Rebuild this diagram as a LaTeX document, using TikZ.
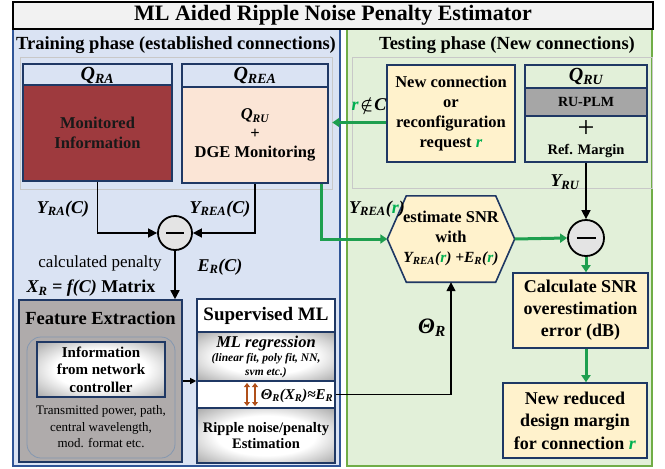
\documentclass[tikz,border=0pt]{standalone}
\usepackage{fontspec}
\setmainfont{Liberation Serif}
\usetikzlibrary{arrows.meta}
\definecolor{bluebg}{HTML}{DAE3F3}
\definecolor{blueline}{HTML}{2F5597}
\definecolor{navy}{HTML}{1F3864}
\definecolor{greenbg}{HTML}{E2F0D9}
\definecolor{greenline}{HTML}{70AD47}
\definecolor{titlebg}{HTML}{F2F2F2}
\definecolor{darkred}{HTML}{9E3A3E}
\definecolor{peach}{HTML}{FBE5D6}
\definecolor{paleyellow}{HTML}{FFF2CC}
\definecolor{fegrey}{HTML}{AFABAB}
\definecolor{plmgrey}{HTML}{A6A6A6}
\definecolor{arrowgreen}{HTML}{1E9F4F}
\definecolor{rgreen}{HTML}{00B050}
\definecolor{arrbrown}{HTML}{B0501A}
\definecolor{circfill}{HTML}{E4E4E4}
\definecolor{groupline}{HTML}{C8C8C8}
\definecolor{roundline}{HTML}{8497B0}

\pgfdeclareradialshading{glow}{\pgfpoint{0bp}{0bp}}{color(0bp)=(white); color(18bp)=(white); color(36bp)=(black!35); color(50bp)=(black!75)}

\newcommand\bi[1]{\textbf{\textit{#1}}}
\newcommand\fsz[2]{\fontsize{#1}{#2}\selectfont}
\newcommand\rr{\textcolor{rgreen}{\bi{r}}}

\tikzset{
 box/.style={draw=navy, line width=1.6pt, inner sep=0pt, align=center},
 blk/.style={-{Triangle[length=9pt,width=9pt]}, line width=1.6pt, black},
 grn/.style={-{Triangle[length=7pt,width=9pt]}, line width=3pt, arrowgreen},
 lbl/.style={inner sep=0pt, align=center},
 minus/.style={circle, draw=black, line width=1.8pt, fill=circfill, inner sep=0pt},
 group/.style={draw=groupline, line width=0.6pt, inner sep=0pt},
 glowbox/.style={box, shading=glow},
}

\begin{document}
\begin{tikzpicture}[x=1pt,y=-1pt]
\useasboundingbox (0,0) rectangle (665,469);
% panels
\node[draw=blueline, fill=bluebg, line width=1.6pt, minimum width=327pt, minimum height=437pt, inner sep=0pt] (train) at (176.5,247.5) {};
\node[draw=greenline, fill=greenbg, line width=1.6pt, minimum width=305pt, minimum height=437pt, inner sep=0pt] (test) at (499.5,247.5) {};
\node[draw=black, fill=titlebg, line width=1.8pt, minimum width=640pt, minimum height=27pt, inner sep=0pt, font=\fsz{22}{26}\bfseries] (title) at (333,15.5) {ML Aided Ripple Noise Penalty Estimator};
\node[lbl, font=\fsz{18.5}{22}\bfseries] (trainlbl) at (176,45) {Training phase (established connections)};
\node[lbl, font=\fsz{18.5}{22}\bfseries] (testlbl) at (507,45) {Testing phase (New connections)};

% groups
\node[group, minimum width=312pt, minimum height=132pt] (lgrp) at (176,123) {};
\node[group, minimum width=300pt, minimum height=131pt] (rgrp) at (502,122.5) {};

% Q_RA
\node[box, fill=bluebg, minimum width=149pt, minimum height=23pt, font=\fsz{20}{24}\bfseries\itshape] (qrah) at (97.5,75.5) {Q\textsubscript{RA}};
\node[box, fill=darkred, minimum width=149pt, minimum height=96pt, text=black!90, font=\fsz{16.5}{20}\bfseries] (qrab) at (97.5,133) {Monitored\\Information};
% Q_REA
\node[box, fill=bluebg, minimum width=146pt, minimum height=23pt, font=\fsz{20}{24}\bfseries\itshape] (qreah) at (255,75.5) {Q\textsubscript{REA}};
\node[box, fill=peach, minimum width=146pt, minimum height=96pt, font=\fsz{16.5}{19}\bfseries] (qreab) at (255,135) {\bi{Q\textsubscript{RU}}\\+\\DGE Monitoring};

% new connection
\node[box, fill=paleyellow, minimum width=128pt, minimum height=97pt, font=\fsz{16.5}{20}\bfseries] (newc) at (451,113.5) {New connection\\or\\reconfiguration\\request \rr};
% Q_RU
\node[box, fill=greenbg, minimum width=122pt, minimum height=23pt, font=\fsz{20}{24}\bfseries\itshape] (qruh) at (586,76.5) {Q\textsubscript{RU}};
\node[box, fill=plmgrey, minimum width=122pt, minimum height=28pt, font=\fsz{14}{16}\bfseries] (qruplm) at (586,102) {RU-PLM};
\node[box, fill=greenbg, minimum width=122pt, minimum height=46pt, font=\fsz{14.5}{17}\bfseries] (qrub) at (586,139) {{\fsz{30}{20}\mdseries +}\\Ref. Margin};

% minus circles
\node[minus, minimum size=34pt] (ml) at (175,233) {};
\draw[line width=2.4pt] ([xshift=-9pt]ml.center) -- ([xshift=9pt]ml.center);
\node[minus, minimum size=36pt] (mr) at (586,238) {};
\draw[line width=2.4pt] ([xshift=-9.5pt]mr.center) -- ([xshift=9.5pt]mr.center);

% labels left
\node[lbl, font=\fsz{18}{20}\bfseries\itshape] (yra) at (63,209) {Y\textsubscript{RA}(C)};
\node[lbl, font=\fsz{18}{20}\bfseries\itshape] (yrea) at (220,209) {Y\textsubscript{REA}(C)};
\node[lbl, font=\fsz{17}{20}] (calcpen) at (100,263) {calculated penalty};
\node[lbl, font=\fsz{18}{20}\bfseries\itshape] (erc) at (220,267) {E\textsubscript{R}(C)};
\node[lbl, font=\fsz{18}{20}\bfseries] (xr) at (91,288) {\textit{X\textsubscript{R} = f(C)} Matrix};

% feature extraction
\node[box, fill=fegrey, minimum width=163pt, minimum height=162pt] (fe) at (100.5,381) {};
\node[lbl, font=\fsz{18.5}{22}\bfseries] (fetitle) at (100.5,318) {Feature Extraction};
\node[draw=roundline, line width=0.8pt, rounded corners=14pt, minimum width=148pt, minimum height=121pt, inner sep=0pt] (feinner) at (101,397.5) {};
\node[glowbox, minimum width=128pt, minimum height=55pt, font=\fsz{15}{17.5}\bfseries] (info) at (101,369.5) {Information\\from network\\controller};
\node[lbl, font=\fsz{13}{16.5}] (fetext) at (101,427) {Transmitted power, path,\\central wavelength,\\mod. format etc.};

% supervised ML
\node[box, fill=white, minimum width=138pt, minimum height=33pt, font=\fsz{19}{22}\bfseries] (suph) at (266,315.5) {Supervised ML};
\node[glowbox, minimum width=138pt, minimum height=49pt, font=\fsz{11.5}{14}\bfseries\itshape] (supreg) at (266,356.5) {{\fsz{16.5}{18}ML regression}\\(linear fit, poly fit, NN,\\svm etc.)};
\node[box, fill=white, minimum width=138pt, minimum height=27pt] (supth) at (266,394.5) {};
\node[glowbox, minimum width=138pt, minimum height=55pt, font=\fsz{14.5}{16}\bfseries] (suprip) at (266,435.5) {Ripple noise/penalty\\Estimation};
\node[lbl, font=\fsz{15}{18}\bfseries\itshape] (thtext) at (297,396) {Θ\textsubscript{R}(X\textsubscript{R})≈E\textsubscript{R}};
\draw[arrbrown, line width=1.6pt, {Triangle[length=4pt,width=6pt]}-{Triangle[length=4pt,width=6pt]}] ([xshift=-19pt,yshift=11.5pt]supth.center) -- ([xshift=-19pt,yshift=-11.5pt]supth.center);
\draw[arrbrown, line width=1.6pt, {Triangle[length=4pt,width=6pt]}-{Triangle[length=4pt,width=6pt]}] ([xshift=-11pt,yshift=11.5pt]supth.center) -- ([xshift=-11pt,yshift=-11.5pt]supth.center);

% hexagon
\node[inner sep=0pt, minimum width=127pt, minimum height=86pt] (hex) at (451,239) {};
\draw[draw=navy, fill=paleyellow, line width=1.6pt] (hex.west) -- ([xshift=19pt]hex.north west) -- ([xshift=-19pt]hex.north east) -- (hex.east) -- ([xshift=-19pt]hex.south east) -- ([xshift=19pt]hex.south west) -- cycle;
\node[lbl, font=\fsz{16.5}{20}\bfseries] (hextext) at (451,238) {estimate SNR\\with\\{\fsz{15.5}{18}\itshape Y\textsubscript{REA}(\rr) +E\textsubscript{R}(\rr)}};

% right lower boxes
\node[box, fill=paleyellow, minimum width=135pt, minimum height=75pt, font=\fsz{18}{22}\bfseries] (calc) at (580.5,310.5) {Calculate SNR\\overestimation\\error (dB)};
\node[box, fill=paleyellow, minimum width=144pt, minimum height=75pt, font=\fsz{18}{22.5}\bfseries] (nr) at (575,420.5) {New reduced\\design margin\\for connection \rr};

% labels right
\node[lbl, font=\fsz{22}{24}\bfseries\itshape] (thetar) at (432,328) {Θ\textsubscript{R}};
\node[lbl, font=\fsz{18}{20}\bfseries\itshape] (yrear) at (377,209) {Y\textsubscript{REA}(\rr)};
\node[lbl, font=\fsz{18}{20}\bfseries\itshape] (yru) at (565,182) {Y\textsubscript{RU}};
\node[lbl, font=\fsz{18}{20}\bfseries\itshape] (rnotin) at (369,105) {\rr\kern1.5pt{\boldmath$\notin$}\kern1pt C};

% connectors
\draw[blk] (qrab.south) |- (ml.west);
\draw[blk] (qreab.south) |- (ml.east);
\draw[blk] (ml.south) -- (ml.south |- fe.north);
\draw[-{Triangle[length=6pt,width=6pt]}, line width=1.2pt] (fe.east) -- (fe.east -| suph.west);
\draw[blk] (supth.east) -| (hex.south);
\draw[blk] (qrub.south) -- (mr.north);
\coordinate (gstart) at ([xshift=-7pt]qreab.south east);
\draw[grn] (gstart) |- (hex.west);
\draw[grn] (hex.east) -- (mr.west);
\draw[grn] (mr.south) -- (mr.south |- calc.north);
\draw[grn] (mr.south |- calc.south) -- (mr.south |- nr.north);
\coordinate (ncw) at ([yshift=-9pt]newc.west);
\draw[grn] (ncw) -- (ncw -| lgrp.east);
\end{tikzpicture}
\end{document}
